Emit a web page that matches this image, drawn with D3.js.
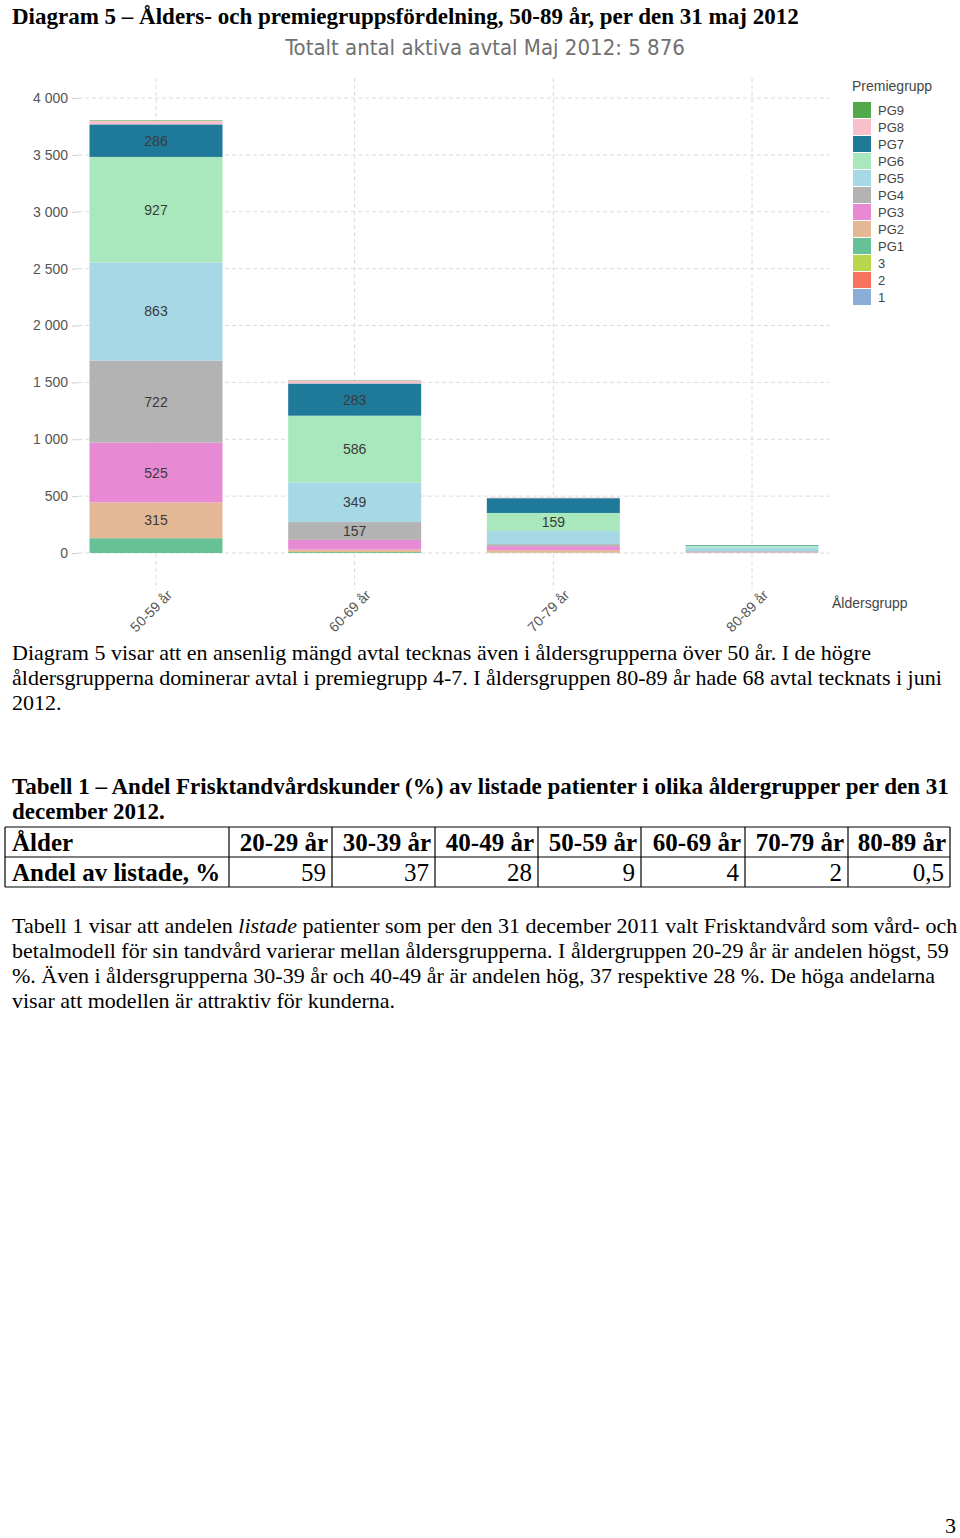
<!DOCTYPE html>
<html>
<head>
<meta charset="utf-8">
<script src="https://cdn.jsdelivr.net/npm/d3@7"></script>
<style>
  body { margin: 0; background: #fff; }
  svg { display: block; }
  .doc { font-family: "Liberation Serif", "Times New Roman", serif; fill: #000; }
  .chart text { font-family: "Liberation Sans", Arial, sans-serif; }
</style>
</head>
<body>
<svg id="page" width="960" height="1538"></svg>
<script>
// chart data
const ageGroups = ["50-59 år", "60-69 år", "70-79 år", "80-89 år"];
const premieGroups = ["1", "2", "3", "PG1", "PG2", "PG3", "PG4", "PG5", "PG6", "PG7", "PG8", "PG9"];
const groupColors = ["#8caed6", "#f8735f", "#b8d64b", "#66c194", "#e5b895", "#e78ad3",
                     "#b3b3b3", "#a6d8e6", "#a8e8bc", "#1f7a9a", "#f8c0ca", "#52a84a"];
const counts = {
    "1":   [0, 0, 0, 0],
    "2":   [0, 0, 0, 0],
    "3":   [0, 0, 0, 0],
    "PG1": [130, 8, 3, 0],
    "PG2": [315, 22, 22, 3],
    "PG3": [525, 85, 35, 3],
    "PG4": [722, 157, 18, 10],
    "PG5": [863, 349, 115, 30],
    "PG6": [927, 586, 159, 17],
    "PG7": [286, 283, 130, 5],
    "PG8": [30, 25, 5, 0],
    "PG9": [5, 3, 0, 0]
};
const yTicks = [0, 500, 1000, 1500, 2000, 2500, 3000, 3500, 4000];

// table data
const tableAges = ["20-29 år", "30-39 år", "40-49 år", "50-59 år", "60-69 år", "70-79 år", "80-89 år"];
const tableShares = ["59", "37", "28", "9", "4", "2", "0,5"];

const svg = d3.select('#page');

// ---- document text ----
const doc = svg.append('g').attr('class', 'doc');

doc.append('text').attr('x', 12).attr('y', 24)
    .style('font-size', '23px').style('font-weight', 'bold')
    .text('Diagram 5 – Ålders- och premiegruppsfördelning, 50-89 år, per den 31 maj 2012');

const para1 = [
    'Diagram 5 visar att en ansenlig mängd avtal tecknas även i åldersgrupperna över 50 år. I de högre',
    'åldersgrupperna dominerar avtal i premiegrupp 4-7. I åldersgruppen 80-89 år hade 68 avtal tecknats i juni',
    '2012.'
];
para1.forEach((t, i) => {
    doc.append('text').attr('x', 12).attr('y', 660 + i * 25)
        .style('font-size', '22px').text(t);
});

['Tabell 1 – Andel Frisktandvårdskunder (%) av listade patienter i olika åldergrupper per den 31',
 'december 2012.'].forEach((t, i) => {
    doc.append('text').attr('x', 12).attr('y', 794 + i * 25)
        .style('font-size', '23px').style('font-weight', 'bold').text(t);
});

// table
const colEdges = [5, 229, 332, 435, 538, 641, 745, 848, 950];
const rowEdges = [827, 857, 887];
const table = doc.append('g').attr('class', 'table');
rowEdges.forEach(y => {
    table.append('line').attr('x1', 5).attr('x2', 950).attr('y1', y).attr('y2', y)
        .attr('stroke', '#000').attr('stroke-width', 1.2);
});
colEdges.forEach(x => {
    table.append('line').attr('x1', x).attr('x2', x).attr('y1', 827).attr('y2', 887)
        .attr('stroke', '#000').attr('stroke-width', 1.2);
});
table.append('text').attr('x', 12).attr('y', 851)
    .style('font-size', '25px').style('font-weight', 'bold').text('Ålder');
table.append('text').attr('x', 12).attr('y', 881)
    .style('font-size', '25px').style('font-weight', 'bold').text('Andel av listade, %');
tableAges.forEach((t, i) => {
    table.append('text').attr('x', colEdges[i + 2] - 4).attr('y', 851)
        .attr('text-anchor', 'end')
        .style('font-size', '25px').style('font-weight', 'bold').text(t);
    table.append('text').attr('x', colEdges[i + 2] - 6).attr('y', 881)
        .attr('text-anchor', 'end')
        .style('font-size', '25px').text(tableShares[i]);
});

const para2 = [
    [['Tabell 1 visar att andelen ', false], ['listade', true], [' patienter som per den 31 december 2011 valt Frisktandvård som vård- och', false]],
    [['betalmodell för sin tandvård varierar mellan åldersgrupperna. I åldergruppen 20-29 år är andelen högst, 59', false]],
    [['%. Även i åldersgrupperna 30-39 år och 40-49 år är andelen hög, 37 respektive 28 %. De höga andelarna', false]],
    [['visar att modellen är attraktiv för kunderna.', false]]
];
para2.forEach((parts, i) => {
    const t = doc.append('text').attr('x', 12).attr('y', 933 + i * 25).style('font-size', '22px');
    parts.forEach(([s, it]) => {
        t.append('tspan').style('font-style', it ? 'italic' : 'normal').text(s);
    });
});

doc.append('text').attr('x', 956).attr('y', 1533).attr('text-anchor', 'end')
    .style('font-size', '22px').text('3');

// ---- chart ----
const chart = svg.append('g').attr('class', 'chart');

const x = d3.scalePoint().domain(ageGroups).range([156, 752]);
const barWidth = 133;
const y = d3.scaleLinear().domain([0, 4000]).range([553, 98]);
const color = d3.scaleOrdinal().domain(premieGroups).range(groupColors);

chart.append('text').attr('x', 485).attr('y', 55).attr('text-anchor', 'middle')
    .style('font-family', '"DejaVu Sans Condensed", "DejaVu Sans", sans-serif')
    .style('font-size', '22px').attr('fill', '#707070')
    .text('Totalt antal aktiva avtal Maj 2012: 5 876');

// gridlines
chart.append('g').selectAll('line').data(yTicks).join('line')
    .attr('x1', 78).attr('x2', 830)
    .attr('y1', d => y(d)).attr('y2', d => y(d))
    .attr('stroke', '#dcdcdc').attr('stroke-dasharray', '4,3');
chart.append('g').selectAll('line').data(ageGroups).join('line')
    .attr('x1', d => x(d)).attr('x2', d => x(d))
    .attr('y1', 78).attr('y2', 590)
    .attr('stroke', '#dcdcdc').attr('stroke-dasharray', '4,3');

// y axis labels + ticks
const yAxis = chart.append('g').attr('transform', 'translate(78,0)')
    .call(d3.axisLeft(y).tickValues(yTicks).tickSize(6).tickPadding(4)
        .tickFormat(d => d3.format(',')(d).replace(',', ' ')));
yAxis.select('.domain').remove();
yAxis.selectAll('line').attr('stroke', '#cfcfcf');
yAxis.selectAll('text').style('font-size', '14px').attr('fill', '#555');

// stacked bars
const rows = ageGroups.map((a, i) => {
    const r = { age: a };
    premieGroups.forEach(g => { r[g] = counts[g][i]; });
    return r;
});
const series = d3.stack().keys(premieGroups)(rows);

const layers = chart.append('g').selectAll('g').data(series).join('g')
    .attr('fill', d => color(d.key));
layers.selectAll('rect').data(d => d).join('rect')
    .attr('x', d => x(d.data.age) - barWidth / 2)
    .attr('width', barWidth)
    .attr('y', d => y(d[1]))
    .attr('height', d => y(d[0]) - y(d[1]));

// segment labels
const labelData = [];
series.forEach(s => s.forEach(d => {
    const v = d[1] - d[0];
    if (v >= 150) labelData.push({ age: d.data.age, v, mid: (d[0] + d[1]) / 2 });
}));
chart.append('g').selectAll('text').data(labelData).join('text')
    .attr('x', d => x(d.age))
    .attr('y', d => y(d.mid) + 5)
    .attr('text-anchor', 'middle')
    .style('font-size', '14px')
    .attr('fill', '#3a3a3a')
    .text(d => d.v);

// x labels
chart.append('g').selectAll('text').data(ageGroups).join('text')
    .attr('transform', d => `translate(${x(d) + 17},${596}) rotate(-45)`)
    .attr('text-anchor', 'end')
    .style('font-size', '14px').attr('fill', '#555')
    .text(d => d);
chart.append('text').attr('x', 832).attr('y', 608)
    .style('font-size', '14px').attr('fill', '#444').text('Åldersgrupp');

// legend
const legend = chart.append('g').attr('transform', 'translate(852,0)');
legend.append('text').attr('x', 0).attr('y', 91)
    .style('font-size', '14px').attr('fill', '#444').text('Premiegrupp');
const legendItems = premieGroups.slice().reverse();
const lg = legend.selectAll('g').data(legendItems).join('g')
    .attr('transform', (d, i) => `translate(0,${102 + i * 17})`);
lg.append('rect').attr('x', 1).attr('width', 18).attr('height', 16)
    .attr('fill', d => color(d));
lg.append('text').attr('x', 26).attr('y', 13)
    .style('font-size', '13px').attr('fill', '#444').text(d => d);
</script>
</body>
</html>
